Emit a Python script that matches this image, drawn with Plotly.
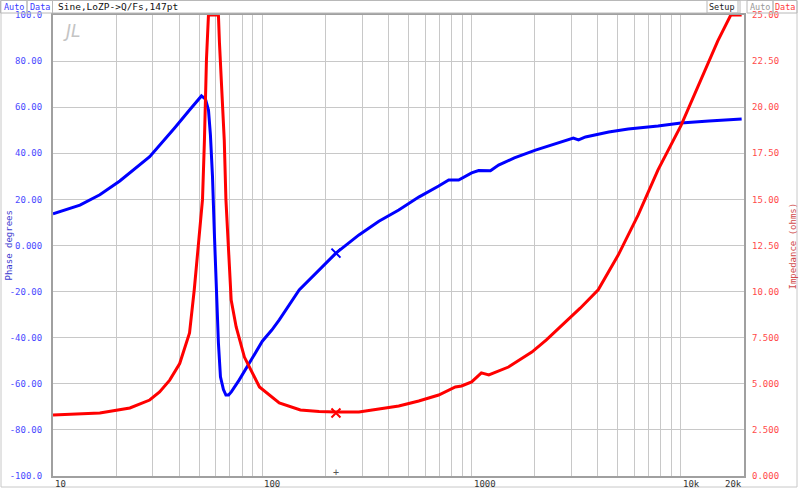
import math
import plotly.graph_objects as go

# ---------------- data ----------------
phase_freq = [10, 13.45, 16.74, 20.85, 28.97, 34.1, 38.1, 44.9, 48.5, 51.2, 53.5, 55.3,
              56.5, 57.8, 59.0, 60.4, 61.7, 63.1, 65.2, 67.0, 69.0, 71.1, 77.6, 86.7,
              100, 111, 120.5, 150, 186.8, 224.8, 289.5, 360.5, 448.6, 559, 696, 777,
              867, 1000, 1080, 1230, 1345, 1600, 2018, 2590, 3060, 3240, 3500, 4520,
              5600, 7770, 10000, 13600, 19500]
phase_deg = [13.7, 17.5, 22.0, 28.0, 38.5, 45.8, 51.0, 58.8, 62.4, 64.9, 63.5, 58.8,
             48.0, 30.0, 5.4, -23.6, -42.3, -57.0, -62.5, -64.9, -64.9, -63.5, -58.3, -51.0,
             -41.5, -36.7, -32.3, -19.3, -10.6, -3.3, 4.6, 10.5, 15.4, 21.0, 25.8, 28.4,
             28.4, 31.5, 32.5, 32.4, 34.9, 38.0, 41.4, 44.5, 46.6, 45.8, 47.1, 49.2,
             50.5, 51.8, 53.1, 54.0, 54.9]

imp_freq = [10, 16.74, 23.3, 28.97, 32.3, 36.1, 40.3, 44.9, 47.3, 50.1, 51.8,
            52.9, 54.1, 55.3, 61.7, 62.4, 64.4, 65.8, 67.0, 71.0, 75.0, 82.1, 96.9,
            120.5, 152, 186.8, 224.8, 289.5, 448.6, 559, 696, 836, 895, 1000, 1113,
            1208, 1500, 1939, 2276, 3060, 3300, 4025, 5015, 6240, 7770, 10000, 12100,
            15000, 17300, 19500]
imp_ohm = [3.31, 3.42, 3.69, 4.12, 4.56, 5.2, 6.1, 7.76, 10.1, 13.2, 15.0,
           18.2, 22.6, 25.0, 25.0, 23.5, 20.6, 18.2, 15.0, 9.54, 8.08, 6.45, 4.83,
           3.96, 3.58, 3.50, 3.47, 3.47, 3.80, 4.07, 4.39, 4.83, 4.88, 5.10, 5.59,
           5.48, 5.91, 6.72, 7.38, 8.73, 9.10, 10.1, 11.98, 14.15, 16.6, 19.0, 21.2,
           23.6, 25.0, 25.0]

cursor_freq = [224.8]
cursor_phase = [-3.3]
cursor_imp = [3.42]

phase_ticks = [-100, -80, -60, -40, -20, 0, 20, 40, 60, 80, 100]
phase_ticktext = ["-100.0", "-80.00", "-60.00", "-40.00", "-20.00", "0.000",
                  "20.00", "40.00", "60.00", "80.00", "100.0"]
imp_ticks = [0, 2.5, 5, 7.5, 10, 12.5, 15, 17.5, 20, 22.5, 25]
imp_ticktext = ["0.000", "2.500", "5.000", "7.500", "10.00", "12.50",
                "15.00", "17.50", "20.00", "22.50", "25.00"]
x_label_vals = [10, 100, 1000, 10000, 20000]
x_label_text = ["10", "100", "1000", "10k", "20k"]

# ---------------- layout helpers ----------------
W, H = 800, 489
L, R, T, B = 53, 744, 15, 476


def px2x(px):
    return (px - L) / (R - L)


def py2y(py):
    return (B - py) / (B - T)


MONO = "DejaVu Sans Mono"
BLUE = "#0000ff"
RED = "#ff0000"
GRID = "#c8c8c8"

grid_x = []
for dec in [10, 100, 1000, 10000]:
    for m in range(1, 10):
        v = dec * m
        if v <= 20000:
            grid_x.append(v)
grid_x.append(20000)

fig = go.Figure()
fig.add_trace(go.Scatter(x=phase_freq, y=phase_deg, mode="lines",
                         line=dict(color=BLUE, width=3), yaxis="y", hoverinfo="skip"))
fig.add_trace(go.Scatter(x=imp_freq, y=imp_ohm, mode="lines",
                         line=dict(color=RED, width=3), yaxis="y2", hoverinfo="skip"))
fig.add_trace(go.Scatter(x=cursor_freq, y=cursor_phase, mode="markers",
                         marker=dict(symbol="x-thin-open", size=9, color=BLUE,
                                     line=dict(color=BLUE, width=2)), yaxis="y"))
fig.add_trace(go.Scatter(x=cursor_freq, y=cursor_imp, mode="markers",
                         marker=dict(symbol="x-thin-open", size=9, color=RED,
                                     line=dict(color=RED, width=2)), yaxis="y2"))

fig.update_layout(
    width=W, height=H,
    margin=dict(l=L, r=W - R, t=T, b=H - B, pad=0, autoexpand=False),
    paper_bgcolor="white", plot_bgcolor="white",
    showlegend=False,
    font=dict(family=MONO, size=9),
    xaxis=dict(type="log", range=[1, 4.3012], tickvals=grid_x, showticklabels=False,
               showgrid=True, gridcolor=GRID, gridwidth=1, ticks="",
               showline=True, linecolor="#a0a0a0", linewidth=2, mirror=True,
               zeroline=False, fixedrange=True, automargin=False),
    yaxis=dict(range=[-100, 100], tickvals=phase_ticks, ticktext=phase_ticktext,
               tickfont=dict(family=MONO, size=9, color="#4a4aff"),
               showgrid=True, gridcolor=GRID, gridwidth=1, ticks="",
               ticklabelstandoff=7, automargin=False,
               showline=True, linecolor="#a0a0a0", linewidth=2, mirror=True,
               zeroline=False, fixedrange=True),
    yaxis2=dict(range=[0, 25], overlaying="y", side="right", tickvals=imp_ticks,
                ticktext=imp_ticktext, automargin=False,
                tickfont=dict(family=MONO, size=9, color="#ff4a4a"),
                showgrid=False, ticks="", ticklabelstandoff=7,
                zeroline=False, fixedrange=True),
)

annotations = []
# x tick labels (log axis: annotation x is given in log10 units)
for v, t in zip(x_label_vals, x_label_text):
    annotations.append(dict(x=math.log10(v), y=0, xref="x", yref="paper",
                            text=t, showarrow=False,
                            xanchor="right" if v == 20000 else "left",
                            yanchor="top", yshift=-1,
                            font=dict(family=MONO, size=9, color="#333333")))
# axis titles
annotations.append(dict(x=px2x(8), y=0.5, xref="paper", yref="paper", text="Phase degrees",
                        textangle=-90, showarrow=False, xanchor="center", yanchor="middle",
                        font=dict(family=MONO, size=9, color="#3a3ad0")))
annotations.append(dict(x=px2x(792), y=0.5, xref="paper", yref="paper", text="Impedance (ohms)",
                        textangle=-90, showarrow=False, xanchor="center", yanchor="middle",
                        font=dict(family=MONO, size=9, color="#d04a4a")))
# header texts
hdr = [
    (13.5, "Auto", "#3a3aff"),
    (40, "Data", "#3a3aff"),
    (None, "Sine,LoZP->Q/Fs,147pt", "#111111"),
    (722, "Setup", "#222222"),
    (760, "Auto", "#999999"),
    (785, "Data", "#ff3a3a"),
]
for cx, t, c in hdr:
    if cx is None:
        annotations.append(dict(x=px2x(56), y=py2y(6.5), xref="paper", yref="paper", text=t,
                                showarrow=False, xanchor="left", yanchor="middle",
                                font=dict(family=MONO, size=9.5, color=c)))
    else:
        annotations.append(dict(x=px2x(cx), y=py2y(6.5), xref="paper", yref="paper", text=t,
                                showarrow=False, xanchor="center", yanchor="middle",
                                borderpad=0,
                                font=dict(family=MONO, size=8.5, color=c)))
# logo
annotations.append(dict(x=px2x(72), y=py2y(31), xref="paper", yref="paper",
                        text="<i>JL</i>", showarrow=False, xanchor="center", yanchor="middle",
                        font=dict(family="DejaVu Sans", size=17, color="#c4c4c4")))
# cursor glyph at bottom
annotations.append(dict(x=math.log10(cursor_freq[0]), y=py2y(472), xref="x", yref="paper",
                        text="+", showarrow=False, xanchor="center", yanchor="middle",
                        font=dict(family=MONO, size=10, color="#555555")))
fig.update_layout(annotations=annotations)

shapes = []
box_col = "#b8b8b8"
# outer frame
shapes.append(dict(type="rect", xref="paper", yref="paper", x0=px2x(1), x1=px2x(797),
                   y0=py2y(487), y1=py2y(0.5), line=dict(color="#c8c8c8", width=1)))
# header boxes
for x0, x1 in [(0.5, 27), (27, 52.5), (52.5, 740), (707, 738), (747, 773), (773, 797)]:
    shapes.append(dict(type="rect", xref="paper", yref="paper", x0=px2x(x0), x1=px2x(x1),
                       y0=py2y(13), y1=py2y(0.5), line=dict(color=box_col, width=1)))
fig.update_layout(shapes=shapes)

fig.write_html("out.html", config={"displayModeBar": False},
               post_script="document.body.style.margin='0';document.body.style.padding='0';"
                           "document.body.style.overflow='hidden';")
